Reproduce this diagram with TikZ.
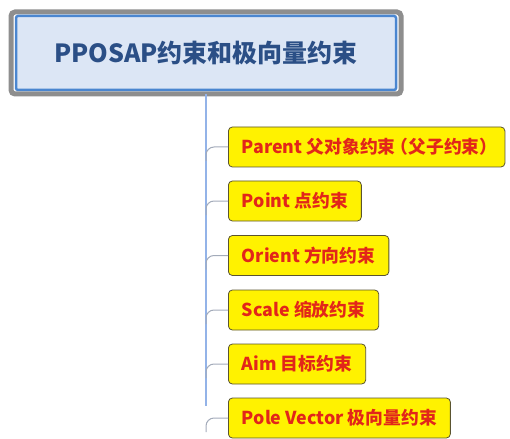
\documentclass[tikz,border=0pt]{standalone}
\usepackage{fontspec}
\setmainfont{Noto Sans CJK SC}
\definecolor{rootfill}{HTML}{DCE6F5}
\definecolor{rootblue}{HTML}{4A86D0}
\definecolor{rootgray}{HTML}{8E8E8E}
\definecolor{roottext}{HTML}{2B4F86}
\definecolor{leaffill}{HTML}{FFF200}
\definecolor{leafdraw}{HTML}{5A5430}
\definecolor{leaftext}{HTML}{E2261A}
\definecolor{trunk}{HTML}{93B3E8}
\definecolor{branch}{HTML}{A3ABBA}
\tikzset{
  rootbox/.style={draw=rootblue, line width=2.5pt, fill=rootfill, rounded corners=2pt,
    minimum width=380pt, minimum height=74pt, inner sep=0pt,
    font=\bfseries\fontsize{25}{30}\selectfont, text=roottext},
  leafbox/.style={draw=leafdraw, line width=0.8pt, fill=leaffill, rounded corners=4pt,
    minimum height=40pt, anchor=west, inner xsep=13.5pt, inner ysep=0pt,
    font=\bfseries\fontsize{17.8}{21}\selectfont, text=leaftext},
  trunkline/.style={draw=trunk, line width=1.5pt},
  branchline/.style={draw=branch, line width=1pt, rounded corners=8pt}
}
\begin{document}
\begin{tikzpicture}[x=1pt,y=-1pt]
\useasboundingbox (0,0) rectangle (510,438);
\draw[rootgray, line width=5pt, rounded corners=4pt] (11,12) rectangle (401,94);
\node[rootbox] (root) at (206,53) {PPOSAP约束和极向量约束};
\node[leafbox] (c1) at (228,147) {Parent 父对象约束\kern-5pt（父子约束）\kern-6pt};
\node[leafbox] (c2) at (228,201) {Point 点约束};
\node[leafbox] (c3) at (228,255.5) {Orient 方向约束};
\node[leafbox] (c4) at (228,310) {Scale 缩放约束};
\node[leafbox] (c5) at (228,364) {Aim 目标约束};
\node[leafbox] (c6) at (228,418) {Pole Vector 极向量约束};
\coordinate (tend) at (206,406);
\draw[trunkline] (root.south) ++(0,2.5) -- (tend);
\foreach \c in {c1,c2,c3,c4,c5,c6}{
  \draw[branchline] ([yshift=-14pt]\c.west -| root.south) |- (\c.west);
}
\end{tikzpicture}
\end{document}
